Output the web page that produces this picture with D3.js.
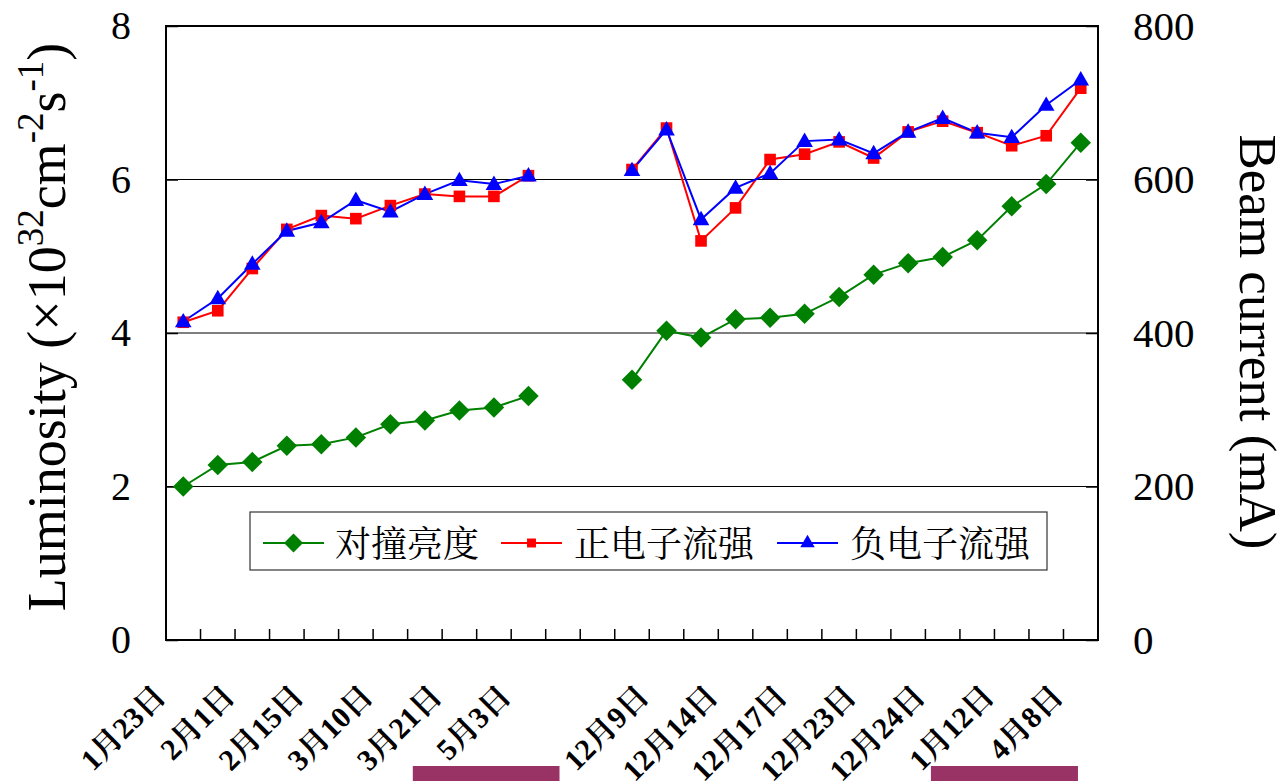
<!DOCTYPE html>
<html>
<head>
<meta charset="utf-8">
<script src="https://cdn.jsdelivr.net/npm/d3@7"></script>
<style>
  html, body { margin: 0; padding: 0; background: #fff; }
  svg { display: block; }
  svg text, svg tspan { font-family: "Liberation Serif" !important; }
  svg text.cjk, svg tspan.cjk { font-family: "Noto Serif CJK SC" !important; }
</style>
</head>
<body>
<svg id="chart" width="1280" height="781"></svg>
<script>
// ---------- data ----------
const categories = ["1月23日","","2月1日","","2月15日","","3月10日","","3月21日","","5月3日","","",
  "","12月9日","","12月14日","","12月17日","","12月23日","","12月24日","","1月12日","","4月8日"];
const luminosity = [2.00,2.28,2.32,2.53,2.55,2.64,2.81,2.86,2.99,3.03,3.18,null,null,
  3.39,4.03,3.94,4.18,4.20,4.25,4.47,4.76,4.91,4.99,5.21,5.65,5.94,6.48];
const positronCurrent = [414,429,484,535,553,549,566,581,578,578,605,null,null,
  613,667,520,563,626,633,649,628,662,676,661,644,657,719];
const electronCurrent = [415,445,490,533,544,573,558,581,599,594,605,null,null,
  612,665,548,589,608,650,652,634,662,680,661,655,697,730];
const leftTicks = [0,2,4,6,8];
const rightTicks = [0,200,400,600,800];
const seriesNames = ["对撞亮度","正电子流强","负电子流强"];
// highlight bars below the axis, in category units
const highlightFrom = [7.15, 22.16];
const highlightTo = [11.40, 26.42];

// ---------- layout ----------
const SERIF = '"Liberation Serif"';
const CJKSERIF = '"Noto Serif CJK SC"';
const setFont = (sel, fam) => sel.attr("font-family", fam).style("font-family", fam, "important");
const svg = d3.select("#chart");
const L = 166, R = 1098, T = 26, B = 640;

const idx = categories.map((d,i)=>i);
const x = d3.scaleBand().domain(idx).range([L,R]).padding(0);
const xc = i => x(i) + x.bandwidth()/2;
const xcat = d3.scaleLinear().domain([0, categories.length]).range([L,R]);
const yL = d3.scaleLinear().domain([0,8]).range([B,T]);
const yR = d3.scaleLinear().domain([0,800]).range([B,T]);

svg.append("rect").attr("width",1280).attr("height",781).attr("fill","#fff");

// gridlines
svg.append("g").selectAll("line").data(leftTicks.filter(d=>d>0 && d<8)).join("line")
  .attr("x1",L).attr("x2",R).attr("y1",d=>yL(d)).attr("y2",d=>yL(d))
  .attr("stroke","#000").attr("stroke-width",1.2);

// left axis
const gl = svg.append("g").attr("transform",`translate(${L},0)`)
  .call(d3.axisLeft(yL).tickValues(leftTicks).tickSize(-12).tickPadding(35).tickFormat(d3.format("d")));
setFont(gl, SERIF).attr("font-size",null);
gl.select(".domain").remove();
gl.selectAll("line").attr("stroke","#000").attr("stroke-width",1.5);
setFont(gl.selectAll("text"), SERIF).style("font-size","40px").attr("fill","#000");

// right axis
const gr = svg.append("g").attr("transform",`translate(${R},0)`)
  .call(d3.axisRight(yR).tickValues(rightTicks).tickSize(-12).tickPadding(35).tickFormat(d3.format("d")));
setFont(gr, SERIF).attr("font-size",null);
gr.select(".domain").remove();
gr.selectAll("line").attr("stroke","#000").attr("stroke-width",1.5);
setFont(gr.selectAll("text"), SERIF).style("font-size","41px").attr("fill","#000");

// bottom axis ticks at category boundaries
const gb = svg.append("g").attr("transform",`translate(0,${B})`);
gb.selectAll("line").data(idx.slice(1)).join("line")
  .attr("x1",d=>x(d)).attr("x2",d=>x(d)).attr("y1",0).attr("y2",-11)
  .attr("stroke","#000").attr("stroke-width",1.5);
const labs = gb.selectAll("text").data(idx.filter(i=>categories[i]!=="")).join("text")
  .attr("transform",i=>`translate(${xc(i)-16},58) rotate(-45)`)
  .attr("text-anchor","end")
  .style("font-size","30px").style("font-weight","bold")
  .attr("fill","#000");
setFont(labs, SERIF);
labs.each(function(i){
  const t = d3.select(this);
  (categories[i].match(/\d+|[^\d]+/g) || []).forEach(part=>{
    const isNum = /^\d+$/.test(part);
    const ts = t.append("tspan").attr("class", isNum ? null : "cjk")
      .style("font-weight","bold").text(part);
    setFont(ts, isNum ? SERIF : CJKSERIF);
  });
});

// plot border
svg.append("rect").attr("x",L).attr("y",T).attr("width",R-L).attr("height",B-T)
  .attr("fill","none").attr("stroke","#000").attr("stroke-width",2);

// series
const lineL = d3.line().defined(d=>d!=null).x((d,i)=>xc(i)).y(d=>yL(d));
const lineR = d3.line().defined(d=>d!=null).x((d,i)=>xc(i)).y(d=>yR(d));

svg.append("path").attr("d",lineL(luminosity)).attr("fill","none").attr("stroke","#008000").attr("stroke-width",2);
svg.append("path").attr("d",lineR(positronCurrent)).attr("fill","none").attr("stroke","#ff0000").attr("stroke-width",2);
svg.append("path").attr("d",lineR(electronCurrent)).attr("fill","none").attr("stroke","#0000ff").attr("stroke-width",2);

const diamond = d3.symbol().type(d3.symbolSquare).size(210)();
const square = d3.symbol().type(d3.symbolSquare).size(135)();
const triangle = d3.symbol().type(d3.symbolTriangle).size(120)();

svg.append("g").selectAll("path").data(luminosity.map((v,i)=>({v,i})).filter(d=>d.v!=null)).join("path")
  .attr("d",diamond).attr("transform",d=>`translate(${xc(d.i)},${yL(d.v)}) rotate(45)`).attr("fill","#008000");
svg.append("g").selectAll("path").data(positronCurrent.map((v,i)=>({v,i})).filter(d=>d.v!=null)).join("path")
  .attr("d",square).attr("transform",d=>`translate(${xc(d.i)},${yR(d.v)})`).attr("fill","#ff0000");
svg.append("g").selectAll("path").data(electronCurrent.map((v,i)=>({v,i})).filter(d=>d.v!=null)).join("path")
  .attr("d",triangle).attr("transform",d=>`translate(${xc(d.i)},${yR(d.v)+1})`).attr("fill","#0000ff");

// legend
const lg = svg.append("g");
lg.append("rect").attr("x",250).attr("y",512).attr("width",797).attr("height",58)
  .attr("fill","#fff").attr("stroke","#333").attr("stroke-width",1.2);
const legItems = [
  {name:seriesNames[0], color:"#008000", sym:d3.symbol().type(d3.symbolSquare).size(180)(), rot:45, x0:263, tx:335},
  {name:seriesNames[1], color:"#ff0000", sym:d3.symbol().type(d3.symbolSquare).size(80)(), rot:0, x0:501, tx:574},
  {name:seriesNames[2], color:"#0000ff", sym:d3.symbol().type(d3.symbolTriangle).size(90)(), rot:0, x0:777, tx:850}
];
legItems.forEach(it=>{
  lg.append("line").attr("x1",it.x0).attr("x2",it.x0+61).attr("y1",543).attr("y2",543)
    .attr("stroke",it.color).attr("stroke-width",2);
  lg.append("path").attr("d",it.sym).attr("transform",`translate(${it.x0+30.5},543) rotate(${it.rot})`).attr("fill",it.color);
  const tx = lg.append("text").attr("class","cjk").attr("x",it.tx).attr("y",557)
    .style("font-size","36px").attr("fill","#000").text(it.name);
  setFont(tx, CJKSERIF);
});

// highlight bars
svg.append("g").selectAll("rect").data(highlightFrom.map((f,i)=>({f,t:highlightTo[i]}))).join("rect")
  .attr("x",d=>xcat(d.f)).attr("width",d=>xcat(d.t)-xcat(d.f)).attr("y",766).attr("height",15)
  .attr("fill","#993366");

// axis titles
const lt = svg.append("text").attr("transform","translate(65,327) rotate(-90)")
  .attr("text-anchor","middle").style("font-size","54px").attr("fill","#000");
setFont(lt, SERIF);
lt.append("tspan").text("Luminosity (×10");
lt.append("tspan").style("font-size","37px").attr("dy",-22).text("32");
lt.append("tspan").attr("dy",22).text("cm");
lt.append("tspan").style("font-size","37px").attr("dy",-22).text("-2");
lt.append("tspan").attr("dy",22).text("s");
lt.append("tspan").style("font-size","37px").attr("dy",-22).text("-1");
lt.append("tspan").attr("dy",22).text(")");
setFont(lt.selectAll("tspan"), SERIF);

const rt = svg.append("text").attr("transform","translate(1240,342) rotate(90)")
  .attr("text-anchor","middle").style("font-size","53px").attr("fill","#000")
  .text("Beam current (mA)");
setFont(rt, SERIF);
</script>
</body>
</html>
